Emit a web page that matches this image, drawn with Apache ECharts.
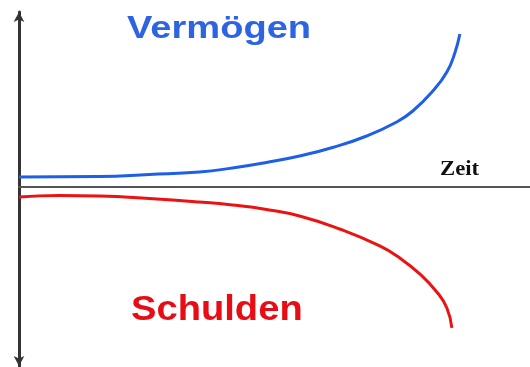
<!DOCTYPE html>
<html>
<head>
<meta charset="utf-8">
<script src="https://cdn.jsdelivr.net/npm/echarts@6/dist/echarts.min.js"></script>
<style>html,body{margin:0;padding:0;background:#fff}#c{width:530px;height:367px}</style>
</head>
<body>
<div id="c"></div>
<script>
// Time (arbitrary units) and values
const vermoegenTime = [0, 15.69, 25.49, 35.29, 41.76, 48.43, 54.90, 61.37, 68.04, 73.92, 77.06, 80.98, 83.73, 85.29, 86.27];
const vermoegenValues = [5.39, 5.68, 6.82, 8.26, 10.55, 13.70, 17.43, 22.31, 28.90, 36.93, 43.23, 54.70, 65.60, 76.49, 87.39];
const schuldenTime = [0, 7.84, 15.69, 25.49, 35.29, 41.76, 48.43, 54.90, 62.75, 70.59, 74.51, 78.43, 81.76, 83.73, 84.71];
const schuldenValues = [-6.08, -5.22, -5.50, -6.94, -8.94, -10.67, -13.25, -16.97, -24.43, -34.17, -41.06, -50.23, -60.55, -69.72, -81.19];
const labelVermoegen = "Vermögen";
const labelSchulden = "Schulden";
const labelZeit = "Zeit";

const zip = (a, b) => a.map((v, i) => [v, b[i]]);

const chart = echarts.init(document.getElementById('c'), null, {renderer: 'canvas'});
chart.setOption({
  animation: false,
  backgroundColor: '#ffffff',
  grid: {left: 19, right: 0, top: 12, bottom: 1, containLabel: false},
  xAxis: {
    type: 'value', min: 0, max: 100,
    axisLine: {show: true, onZero: true, lineStyle: {color: '#555', width: 2}},
    axisTick: {show: false}, axisLabel: {show: false}, splitLine: {show: false}
  },
  yAxis: {
    type: 'value', min: -103, max: 100,
    axisLine: {show: true, symbol: ['arrow', 'arrow'], symbolSize: [8, 10], lineStyle: {color: '#333', width: 3}},
    axisTick: {show: false}, axisLabel: {show: false}, splitLine: {show: false}
  },
  series: [
    {type: 'line', name: labelVermoegen, data: zip(vermoegenTime, vermoegenValues), smooth: true, showSymbol: false,
     lineStyle: {color: '#1d5fe6', width: 3}},
    {type: 'line', name: labelSchulden, data: zip(schuldenTime, schuldenValues), smooth: true, showSymbol: false,
     lineStyle: {color: '#ec1212', width: 3}}
  ],
  graphic: [
    {type: 'text', x: 127, y: 29, scaleX: 1.19, style: {x: 0, y: 0, text: labelVermoegen, align: 'left', verticalAlign: 'middle',
      font: 'bold 32px "Liberation Sans", Arial, sans-serif', fill: '#2d64e2'}},
    {type: 'text', x: 131, y: 310, scaleX: 1.09, style: {x: 0, y: 0, text: labelSchulden, align: 'left', verticalAlign: 'middle',
      font: 'bold 35px "Liberation Sans", Arial, sans-serif', fill: '#e80c14'}},
    {type: 'text', x: 440, y: 170, scaleX: 1.08, style: {x: 0, y: 0, text: labelZeit, align: 'left', verticalAlign: 'middle',
      font: 'bold 21px "Liberation Serif", "Times New Roman", serif', fill: '#111'}}
  ]
});
</script>
</body>
</html>
